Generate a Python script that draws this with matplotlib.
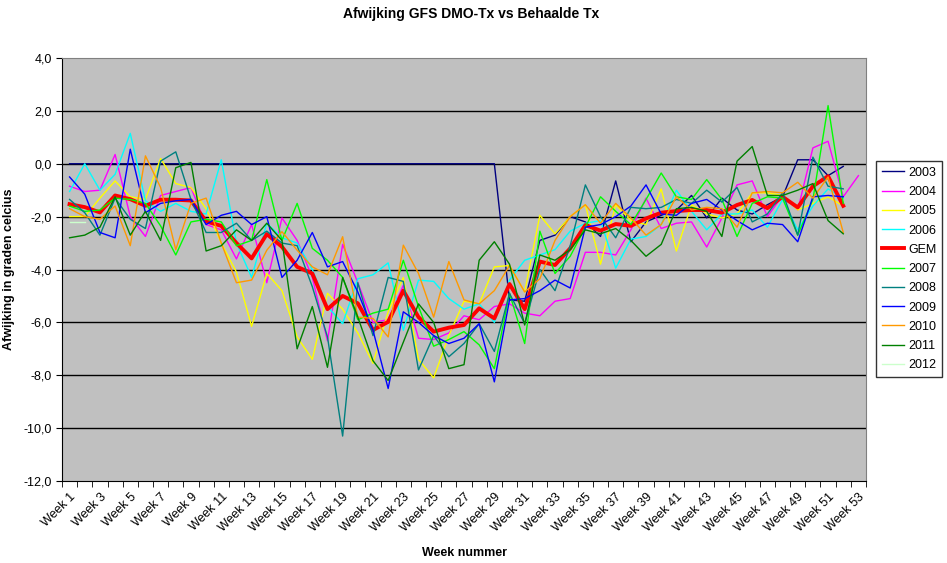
import numpy as np
import matplotlib
matplotlib.use("Agg")
import matplotlib.pyplot as plt

plt.rcParams['font.family'] = ['Liberation Sans', 'DejaVu Sans']

nan = np.nan
weeks = np.arange(1, 54)
week_labels = ["Week %d" % w for w in weeks]

s2003 = [0.0, 0.0, 0.0, 0.0, 0.0, 0.0, 0.0, 0.0, 0.0, 0.0,
         0.0, 0.0, 0.0, 0.0, 0.0, 0.0, 0.0, 0.0, 0.0, 0.0,
         0.0, 0.0, 0.0, 0.0, 0.0, 0.0, 0.0, 0.0, 0.0, -5.15,
         -5.2, -2.9, -2.7, -2.0, -2.2, -2.75, -0.65, -2.95, -2.2, -1.95,
         -1.75, -1.2, -2.05, -1.3, -1.75, -1.9, -1.55, -1.25, 0.15, 0.15,
         -0.45, -0.1, nan]
s2004 = [-0.85, -1.05, -1.0, 0.35, -2.0, -2.75, -1.2, -1.05, -0.9, -2.3,
         -2.5, -3.6, -2.3, -4.5, -2.05, -2.9, -4.3, -6.7, -3.05, -4.5,
         -6.0, -5.9, -4.6, -6.6, -6.65, -6.4, -5.75, -5.9, -5.4, -5.3,
         -5.65, -5.75, -5.2, -5.1, -3.35, -3.35, -3.45, -2.5, -1.3, -2.45,
         -2.25, -2.2, -3.15, -2.05, -0.8, -0.65, -2.0, -1.2, -1.75, 0.6,
         0.85, -1.25, -0.45]
s2005 = [-2.0, -2.0, -1.3, -0.65, -1.25, -1.35, 0.2, -0.75, -0.9, -1.7,
         -3.0, -4.1, -6.15, -4.15, -4.8, -6.55, -7.4, -4.9, -5.5, -6.4,
         -7.55, -5.6, -4.3, -7.4, -8.1, -6.5, -5.2, -5.3, -3.9, -3.85,
         -4.85, -1.95, -2.65, -2.0, -1.55, -3.8, -1.55, -2.15, -2.3, -0.95,
         -3.3, -1.55, -1.9, -2.05, -1.9, -1.1, -1.1, -1.2, -1.75, -1.5,
         -1.25, -1.6, nan]
s2006 = [-1.05, 0.0, -1.0, -0.4, 1.15, -1.4, -1.8, -1.5, -1.8, -1.9,
         0.15, -3.0, -4.3, -2.25, -2.8, -3.0, -4.0, -5.4, -6.05, -4.35,
         -4.2, -3.75, -6.3, -4.4, -4.45, -5.1, -5.5, -5.3, -6.0, -4.4,
         -3.65, -3.45, -3.25, -2.55, -2.25, -2.15, -3.95, -2.85, -2.75, -2.3,
         -1.0, -1.8, -2.5, -1.9, -1.9, -1.75, -2.4, -1.35, -2.5, -1.6,
         -0.95, -1.3, nan]
gem = [-1.53, -1.64, -1.84, -1.2, -1.34, -1.59, -1.36, -1.36, -1.39, -2.18,
       -2.35, -3.0, -3.58, -2.66, -3.14, -3.9, -4.15, -5.5, -5.0, -5.28,
       -6.29, -5.98, -4.8, -5.8, -6.35, -6.2, -6.1, -5.47, -5.85, -4.55,
       -5.5, -3.7, -3.83, -3.2, -2.32, -2.53, -2.28, -2.35, -2.07, -1.85,
       -1.79, -1.75, -1.75, -1.85, -1.56, -1.37, -1.68, -1.25, -1.65, -0.85,
       -0.47, -1.59, nan]
s2007 = [-1.6, -1.8, -1.75, -1.3, -1.35, -1.5, -2.35, -3.45, -2.2, -2.1,
         -2.2, -3.1, -2.9, -0.6, -2.9, -1.5, -3.2, -3.65, -4.3, -5.9,
         -5.65, -5.5, -3.65, -5.4, -6.9, -6.65, -6.35, -6.85, -7.75, -4.9,
         -6.8, -2.55, -4.15, -3.5, -2.4, -1.25, -1.8, -2.3, -1.35, -0.35,
         -1.25, -1.35, -0.6, -1.35, -2.75, -1.5, -1.25, -1.3, -2.7, -1.35,
         2.2, -1.5, nan]
s2008 = [-1.35, -1.85, -2.7, -1.3, -2.1, -2.45, 0.1, 0.45, -1.35, -2.6,
         -2.6, -2.25, -2.9, -2.55, -3.0, -3.1, -4.65, -6.55, -10.3, -4.5,
         -6.5, -4.3, -4.45, -7.8, -6.5, -7.3, -6.8, -6.05, -7.1, -4.9,
         -6.05, -4.0, -4.8, -3.1, -0.8, -2.0, -2.8, -1.65, -1.7, -1.65,
         -1.35, -1.5, -1.0, -1.45, -0.9, -2.2, -1.9, -1.1, -2.7, 0.25,
         -0.85, -0.95, nan]
s2009 = [-0.5, -1.15, -2.6, -2.8, 0.55, -1.85, -1.5, -1.4, -1.35, -2.3,
         -1.95, -1.8, -2.3, -2.0, -4.3, -3.65, -2.6, -3.9, -3.7, -4.85,
         -6.3, -8.5, -5.6, -6.0, -6.5, -6.8, -6.6, -6.05, -8.25, -5.15,
         -5.1, -4.8, -4.4, -4.7, -2.4, -2.3, -2.0, -1.6, -0.8, -1.9,
         -1.95, -1.5, -1.35, -1.75, -2.15, -2.5, -2.25, -2.3, -2.95, -1.25,
         -1.2, -1.25, nan]
s2010 = [-1.7, -2.0, -2.1, -1.6, -3.1, 0.3, -0.9, -3.25, -1.5, -1.3,
         -3.0, -4.5, -4.4, -3.27, -2.57, -3.27, -3.9, -4.2, -2.76, -5.8,
         -5.85, -6.55, -3.08, -4.15, -5.8, -3.7, -5.15, -5.3, -4.8, -3.85,
         -4.85, -4.35, -2.9, -2.0, -1.55, -2.25, -1.5, -2.05, -2.7, -2.3,
         -1.25, -1.75, -1.65, -1.7, -2.4, -1.1, -1.05, -1.1, -0.7, -1.3,
         -0.5, -2.6, nan]
s2011 = [-2.8, -2.7, -2.4, -1.25, -2.7, -1.8, -2.9, -0.15, 0.05, -3.3,
         -3.1, -2.5, -2.9, -2.25, -2.9, -7.0, -5.4, -7.7, -4.3, -5.8,
         -7.45, -8.2, -6.75, -5.3, -6.0, -7.75, -7.6, -3.65, -2.95, -3.8,
         -6.1, -3.45, -3.65, -3.25, -2.5, -2.65, -2.45, -2.9, -3.5, -3.05,
         -1.7, -1.65, -1.8, -2.75, 0.1, 0.65, -1.2, -1.2, -1.0, -0.75,
         -2.15, -2.65, nan]
s2012 = [-2.2, -2.2] + [nan] * 51

series = [
    ("2003", s2003, "#000080", 1.0),
    ("2004", s2004, "#FF00FF", 1.0),
    ("2005", s2005, "#FFFF00", 1.0),
    ("2006", s2006, "#00FFFF", 1.0),
    ("GEM", gem, "#FF0000", 2.8),
    ("2007", s2007, "#00FF00", 1.0),
    ("2008", s2008, "#008080", 1.0),
    ("2009", s2009, "#0000FF", 1.0),
    ("2010", s2010, "#FF9900", 1.0),
    ("2011", s2011, "#008000", 1.0),
    ("2012", s2012, "#CCFFCC", 1.0),
]

fig = plt.figure(figsize=(9.47, 5.63), dpi=100)
ax = fig.add_axes([62 / 947, 1 - 481 / 563, 804 / 947, 423 / 563])
ax.set_facecolor("#C0C0C0")

for i, (name, vals, col, lw) in enumerate(series):
    ax.plot(weeks, vals, color=col, lw=lw, label=name, zorder=3 + i)

ax.set_xlim(0.5, 53.5)
ax.set_ylim(-12, 4)
yt = np.arange(-12, 5, 2)
ax.set_yticks(yt)
ax.set_yticklabels([("%.1f" % v).replace(".", ",") for v in yt], fontsize=9)
for v in yt[1:-1]:
    ax.axhline(v, color="black", lw=1.0, zorder=1)

ax.set_xticks(weeks[::2])
ax.set_xticklabels(week_labels[::2], rotation=45, ha="right",
                   rotation_mode="anchor", fontsize=9)
ax.set_xticks(np.arange(0.5, 54, 1), minor=True)
ax.tick_params(axis="x", which="major", length=0, pad=7)
ax.tick_params(axis="x", which="minor", length=4, direction="out")
ax.tick_params(axis="y", length=4, direction="out")

for side in ["left", "bottom"]:
    ax.spines[side].set_color("black")
for side in ["top", "right"]:
    ax.spines[side].set_color("#808080")

fig.text(0.497, 0.975, "Afwijking GFS DMO-Tx vs Behaalde Tx", ha="center",
         va="center", fontsize=10, fontweight="bold")
ax.set_ylabel("Afwijking in graden celcius", fontsize=9, fontweight="bold",
              labelpad=6)
fig.text(464 / 947, 1 - 553 / 563, "Week nummer", ha="center", va="center",
         fontsize=9, fontweight="bold")

leg = fig.legend(loc="center left", bbox_to_anchor=(876 / 947, 0.522),
                 fontsize=9, frameon=True, fancybox=False, handlelength=1.75,
                 borderpad=0.45, labelspacing=0.58, handletextpad=0.35,
                 borderaxespad=0)
leg.get_frame().set_edgecolor("black")
leg.get_frame().set_linewidth(1.0)

fig.savefig("out.png", dpi=100)
